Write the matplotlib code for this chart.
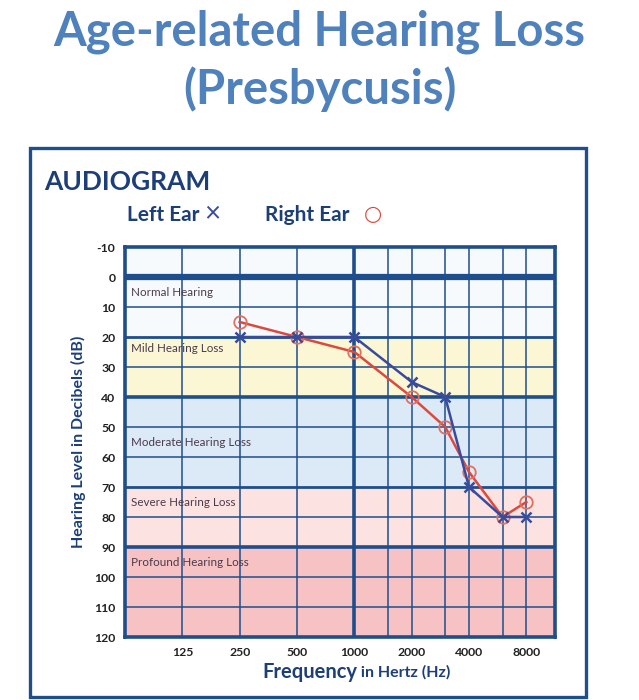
import numpy as np
import matplotlib.pyplot as plt
from matplotlib.patches import Rectangle

# audiogram data (dB HL)
freqs = [250, 500, 1000, 2000, 3000, 4000, 6000, 8000]
left_ear = [20, 20, 20, 35, 40, 70, 80, 80]
right_ear = [15, 20, 25, 40, 50, 65, 80, 75]

tick_freqs = [125, 250, 500, 1000, 2000, 4000, 8000]
minor_freqs = [1500, 3000, 6000]
db_ticks = list(range(-10, 130, 10))

bands = ["Normal Hearing", "Mild Hearing Loss", "Moderate Hearing Loss",
         "Severe Hearing Loss", "Profound Hearing Loss"]
band_edges = [-10, 20, 40, 70, 90, 120]
band_label_y = [5, 24, 55, 75, 95]
band_colors = ["#f7fafd", "#fbf6d4", "#dce9f6", "#fce2e1", "#f6c2c3"]

plt.rcParams['font.family'] = ['Lato', 'DejaVu Sans']
plt.rcParams['axes.unicode_minus'] = False

navy = "#1f4e8c"
blue = "#3a4b9c"
red = "#db4a3e"

fig = plt.figure(figsize=(6.39, 7.0), dpi=100)

# big title
fig.text(0.5, 0.955, "Age-related Hearing Loss", ha='center', va='center',
         fontsize=34, fontweight='bold', color="#4f81bd")
fig.text(0.5, 0.872, "(Presbycusis)", ha='center', va='center',
         fontsize=34, fontweight='bold', color="#4f81bd")

# outer frame
fig.patches.append(Rectangle((0.047, 0.005), 0.870, 0.783, transform=fig.transFigure,
                             fill=False, edgecolor=navy, linewidth=2.4))

fig.text(44 / 639, 1 - 182 / 700, "AUDIOGRAM", ha='left', va='center',
         fontsize=19, fontweight='bold', color="#1d3f78")
fig.text(127 / 639, 1 - 215 / 700, "Left Ear", ha='left', va='center',
         fontsize=15, fontweight='bold', color="#1d3f78")
fig.text(204 / 639, 1 - 214 / 700, "\u00d7", ha='left', va='center',
         fontsize=20, color=blue)
fig.text(265 / 639, 1 - 215 / 700, "Right Ear", ha='left', va='center',
         fontsize=15, fontweight='bold', color="#1d3f78")
fig.text(364 / 639, 1 - 214 / 700, "\u25cb", ha='left', va='center',
         fontsize=15, color=red, family=['DejaVu Sans'])

ax = fig.add_axes([125 / 639, 1 - 637 / 700, 430 / 639, 390 / 700])

x_lo = np.log2(62.5)
x_hi = np.log2(8000) + 0.5
ax.set_xlim(x_lo, x_hi)
ax.set_ylim(120, -10)

for i in range(len(bands)):
    ax.axhspan(band_edges[i], band_edges[i + 1], color=band_colors[i], zorder=0)
    ax.text(x_lo + 0.1, band_label_y[i], bands[i], ha='left', va='center',
            fontsize=8.4, color="#4a3b4c", zorder=2)

# grid
thick = {0: 4.5, 20: 2.0, 40: 2.6, 70: 2.0, 90: 2.6}
for d in db_ticks[1:-1]:
    ax.axhline(d, color=navy, linewidth=thick.get(d, 1.1), zorder=1)
for f in tick_freqs + minor_freqs:
    ax.axvline(np.log2(f), color=navy, linewidth=2.6 if f == 1000 else 1.1, zorder=1)

for s in ax.spines.values():
    s.set_color(navy)
    s.set_linewidth(2.6)

ax.plot(np.log2(freqs), left_ear, color=blue, linewidth=1.8, marker='x',
        markersize=7, markeredgewidth=1.8, zorder=4)
ax.plot(np.log2(freqs), right_ear, color=red, linewidth=1.8, marker='o',
        markersize=9, markerfacecolor='none', markeredgecolor="#e0705f",
        markeredgewidth=1.3, zorder=3)

ax.set_xticks(np.log2(tick_freqs))
ax.set_xticklabels([str(f) for f in tick_freqs])
ax.set_yticks(db_ticks)
ax.tick_params(length=0, labelsize=8.8, labelcolor="#222222", pad=7)
for lab in ax.get_xticklabels() + ax.get_yticklabels():
    lab.set_fontweight('bold')

ax.set_ylabel("Hearing Level in Decibels (dB)", fontsize=11.5, fontweight='bold',
              color="#1d3f78", labelpad=6)

t1 = fig.text(262 / 639, 1 - 672 / 700, "Frequency", ha='left', va='center',
              fontsize=14.5, fontweight='bold', color="#1d3f78")
fig.canvas.draw()
ax.annotate(" in Hertz (Hz)", xy=(1, 0.12), xycoords=t1, ha='left', va='bottom',
            fontsize=11.5, fontweight='bold', color="#1d3f78")

fig.savefig("out.png", dpi=100)
